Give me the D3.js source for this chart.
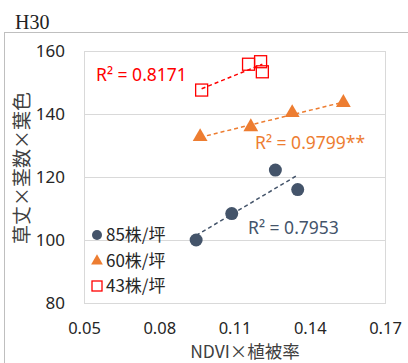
<!DOCTYPE html>
<html>
<head>
<meta charset="utf-8">
<script src="https://cdn.jsdelivr.net/npm/d3@7"></script>
<style>
    body { margin: 0; background: #fff; }
    svg { display: block; }
</style>
</head>
<body>
<div id="vis-container"></div>
<script>
// Data
const seriesNames = ["85株/坪", "60株/坪", "43株/坪"];
const x85 = [0.0947, 0.1089, 0.1263, 0.1352];
const y85 = [100.0, 108.4, 122.2, 116.0];
const x60 = [0.0963, 0.1165, 0.1330, 0.1534];
const y60 = [132.8, 135.9, 140.4, 143.6];
const x43 = [0.0969, 0.1156, 0.1204, 0.1211];
const y43 = [147.6, 155.8, 156.6, 153.4];
const r2Labels = ["R² = 0.7953", "R² = 0.9799**", "R² = 0.8171"];
const xTicks = [0.05, 0.08, 0.11, 0.14, 0.17];
const yTicks = [80, 100, 120, 140, 160];

function main()
{
    const width = 408;
    const height = 363;

    // Plot area
    const plot = { left: 84, right: 385, top: 51, bottom: 303 };

    const colors = ["#44546A", "#ED7D31", "#FF0000"];

    const svg = d3.select("#vis-container")
        .append("svg")
        .attr("width", width)
        .attr("height", height);

    const numFont = "'Noto Sans', sans-serif";
    const cjkFont = "'Noto Sans CJK JP', 'Noto Sans', sans-serif";

    // Title
    svg.append("text")
        .attr("x", 15)
        .attr("y", 29)
        .style("font-family", "'Liberation Serif', serif")
        .style("font-size", "20px")
        .style("fill", "#222")
        .text("H30");

    // Outer frame
    svg.append("rect")
        .attr("x", 4.5)
        .attr("y", 32.5)
        .attr("width", 420)
        .attr("height", 360)
        .style("fill", "none")
        .style("stroke", "#bfbfbf");

    const xScale = d3.scaleLinear().domain([0.05, 0.17]).range([plot.left, plot.right]);
    const yScale = d3.scaleLinear().domain([80, 160]).range([plot.bottom, plot.top]);

    // Gridlines
    svg.append("g")
        .selectAll("line")
        .data(yTicks.slice(1, -1))
        .enter()
        .append("line")
        .attr("x1", plot.left)
        .attr("x2", plot.right)
        .attr("y1", d => Math.round(yScale(d)) + 0.5)
        .attr("y2", d => Math.round(yScale(d)) + 0.5)
        .style("stroke", "#d9d9d9");

    // Plot border
    svg.append("rect")
        .attr("x", plot.left + 0.5)
        .attr("y", plot.top + 0.5)
        .attr("width", plot.right - plot.left)
        .attr("height", plot.bottom - plot.top)
        .style("fill", "none")
        .style("stroke", "#d9d9d9");

    // Axes (labels only)
    const xAxis = d3.axisBottom(xScale).tickValues(xTicks).tickFormat(d3.format(".2f")).tickSize(0).tickPadding(19);
    const gx = svg.append("g")
        .attr("transform", `translate(0, ${plot.bottom})`)
        .call(xAxis);
    gx.select(".domain").remove();
    gx.selectAll("text")
        .style("font-family", numFont)
        .style("font-size", "16.5px")
        .style("fill", "#262626");

    const yAxis = d3.axisLeft(yScale).tickValues(yTicks).tickSize(0).tickPadding(0);
    const gy = svg.append("g")
        .attr("transform", `translate(65, 0)`)
        .call(yAxis);
    gy.select(".domain").remove();
    gy.selectAll("text")
        .style("font-family", numFont)
        .style("font-size", "17px")
        .style("fill", "#262626");

    // Axis titles
    svg.append("text")
        .attr("x", 245)
        .attr("y", 358)
        .attr("text-anchor", "middle")
        .style("font-family", cjkFont)
        .style("font-size", "17.5px")
        .style("fill", "#404040")
        .text("NDVI×植被率");

    svg.append("text")
        .attr("transform", "translate(29, 168) rotate(-90)")
        .attr("text-anchor", "middle")
        .style("font-family", cjkFont)
        .style("font-size", "19px")
        .style("fill", "#404040")
        .text("草丈×茎数×葉色");

    const series = [
        { xs: x85, ys: y85 },
        { xs: x60, ys: y60 },
        { xs: x43, ys: y43 }
    ];

    // Trendlines (least squares)
    series.forEach((s, k) => {
        const mx = d3.mean(s.xs);
        const my = d3.mean(s.ys);
        const sxy = d3.sum(s.xs, (x, i) => (x - mx) * (s.ys[i] - my));
        const sxx = d3.sum(s.xs, x => (x - mx) * (x - mx));
        const slope = sxy / sxx;
        const x0 = d3.min(s.xs);
        const x1 = d3.max(s.xs);
        svg.append("line")
            .attr("x1", xScale(x0))
            .attr("y1", yScale(my + slope * (x0 - mx)))
            .attr("x2", xScale(x1))
            .attr("y2", yScale(my + slope * (x1 - mx)))
            .style("stroke", colors[k])
            .style("stroke-width", 1.5)
            .style("stroke-dasharray", "4,3");
    });

    // Markers
    svg.append("g")
        .selectAll("circle")
        .data(x85)
        .enter()
        .append("circle")
        .attr("cx", d => xScale(d))
        .attr("cy", (_, i) => yScale(y85[i]))
        .attr("r", 6.5)
        .style("fill", colors[0]);

    const tri = d3.symbol().type(d3.symbolTriangle).size(95);
    svg.append("g")
        .selectAll("path")
        .data(x60)
        .enter()
        .append("path")
        .attr("d", tri)
        .attr("transform", (d, i) => `translate(${xScale(d)}, ${yScale(y60[i])})`)
        .style("fill", colors[1]);

    svg.append("g")
        .selectAll("rect")
        .data(x43)
        .enter()
        .append("rect")
        .attr("x", d => xScale(d) - 6)
        .attr("y", (_, i) => yScale(y43[i]) - 6)
        .attr("width", 12)
        .attr("height", 12)
        .style("fill", "none")
        .style("stroke", colors[2])
        .style("stroke-width", 1.3);

    // R² labels
    const r2Pos = [[248, 234], [255, 149], [96, 81]];
    r2Labels.forEach((t, k) => {
        svg.append("text")
            .attr("x", r2Pos[k][0])
            .attr("y", r2Pos[k][1])
            .style("font-family", numFont)
            .style("font-size", "17.5px")
            .style("fill", colors[k])
            .text(t);
    });

    // Legend
    const legendY = [235, 261, 286];
    const legend = svg.append("g");
    legend.append("circle")
        .attr("cx", 97)
        .attr("cy", legendY[0])
        .attr("r", 5)
        .style("fill", colors[0]);
    legend.append("path")
        .attr("d", d3.symbol().type(d3.symbolTriangle).size(60))
        .attr("transform", `translate(97, ${legendY[1]})`)
        .style("fill", colors[1]);
    legend.append("rect")
        .attr("x", 92)
        .attr("y", legendY[2] - 5)
        .attr("width", 10)
        .attr("height", 10)
        .style("fill", "#fff")
        .style("stroke", colors[2])
        .style("stroke-width", 1.3);
    seriesNames.forEach((name, k) => {
        legend.append("text")
            .attr("x", 106)
            .attr("y", legendY[k])
            .attr("dy", "0.35em")
            .style("font-family", cjkFont)
            .style("font-size", "17px")
            .style("fill", "#262626")
            .text(name);
    });
}

document.addEventListener("DOMContentLoaded", main);
</script>
</body>
</html>
